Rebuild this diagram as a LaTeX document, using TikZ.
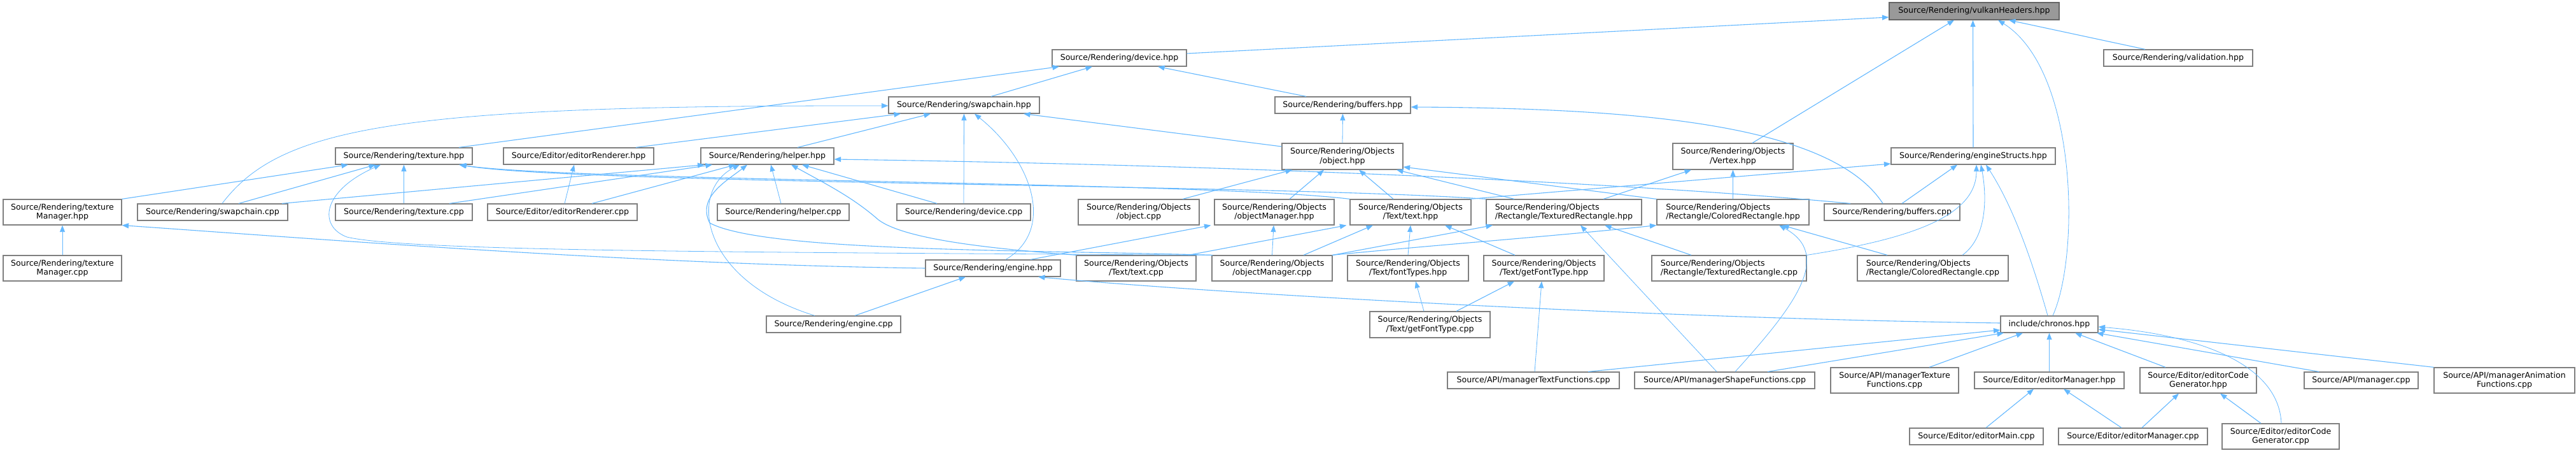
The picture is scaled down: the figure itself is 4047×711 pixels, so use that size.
\documentclass[tikz,border=0pt]{standalone}
\usepackage{fontspec}
\newfontfamily\dvs{DejaVu Sans}
\usetikzlibrary{calc,arrows.meta}
\definecolor{edgec}{HTML}{63B8FF}
\definecolor{boxline}{HTML}{7F7F7F}
\definecolor{mainfill}{HTML}{999999}
\definecolor{mainline}{HTML}{666666}
\tikzset{
  box/.style={draw=boxline, line width=1.2pt, fill=white, inner sep=0pt,
    font={\dvs\fontsize{12.6pt}{14.5pt}\selectfont}, align=center,
    minimum height=26pt},
  boxtwo/.style={box, minimum height=40pt},
  boxleft/.style={boxtwo, align=left},
  mainbox/.style={box, fill=mainfill, draw=mainline},
  edge/.style={draw=edgec, line width=1.1pt, -{Triangle[length=10.5pt,width=8pt,fill=edgec]}},
  thinedge/.style={edge, line width=0.8pt},
}
\begin{document}
\begin{tikzpicture}[x=1pt,y=-1pt]
\fill[white] (0,0) rectangle (4047,711);
\useasboundingbox (0,0) rectangle (4047,711);

% ---------- nodes ----------
\node[mainbox, minimum width=267pt, minimum height=27pt] (VH) at (3101.5,17.5) {Source/Rendering/vulkanHeaders.hpp};
\node[box, minimum width=211pt] (DEV) at (1758.5,91) {Source/Rendering/device.hpp};
\node[box, minimum width=234pt] (VAL) at (3422,91) {Source/Rendering/validation.hpp};
\node[box, minimum width=237pt] (SW) at (1514.5,165) {Source/Rendering/swapchain.hpp};
\node[box, minimum width=213pt] (BUF) at (2109.5,165) {Source/Rendering/buffers.hpp};
\node[box, minimum width=215pt] (TEX) at (634.5,245) {Source/Rendering/texture.hpp};
\node[box, minimum width=236pt] (ER) at (909,245) {Source/Editor/editorRenderer.hpp};
\node[box, minimum width=209pt] (HLP) at (1205.5,245) {Source/Rendering/helper.hpp};
\node[boxtwo, minimum width=190pt, minimum height=41pt] (OBJ) at (2109,245.5) {Source/Rendering/Objects\\/object.hpp};
\node[boxtwo, minimum width=189pt, minimum height=41pt] (VX) at (2722.5,245.5) {Source/Rendering/Objects\\/Vertex.hpp};
\node[box, minimum width=258pt] (ES) at (3100,245) {Source/Rendering/engineStructs.hpp};
\node[boxtwo, minimum width=186pt] (TM) at (98,333) {Source/Rendering/texture\\Manager.hpp};
\node[box, minimum width=236pt] (SWC) at (334,333) {Source/Rendering/swapchain.cpp};
\node[box, minimum width=215pt] (TEXC) at (634.5,333) {Source/Rendering/texture.cpp};
\node[box, minimum width=235pt] (ERC) at (883.5,333) {Source/Editor/editorRenderer.cpp};
\node[box, minimum width=207pt] (HLPC) at (1230.5,333) {Source/Rendering/helper.cpp};
\node[box, minimum width=210pt] (DEVC) at (1514,333) {Source/Rendering/device.cpp};
\node[boxtwo, minimum width=190pt] (OBJC) at (1789,333) {Source/Rendering/Objects\\/object.cpp};
\node[boxtwo, minimum width=188pt] (OMH) at (2002,333) {Source/Rendering/Objects\\/objectManager.hpp};
\node[boxtwo, minimum width=190pt] (TXH) at (2216,333) {Source/Rendering/Objects\\/Text/text.hpp};
\node[boxleft, minimum width=244pt] (TRH) at (2457,333) {Source/Rendering/Objects\\/Rectangle/TexturedRectangle.hpp};
\node[boxleft, minimum width=239pt] (CRH) at (2722.5,333) {Source/Rendering/Objects\\/Rectangle/ColoredRectangle.hpp};
\node[box, minimum width=213pt] (BUFC) at (2972.5,333) {Source/Rendering/buffers.cpp};
\node[boxtwo, minimum width=186pt] (TMC) at (98,421) {Source/Rendering/texture\\Manager.cpp};
\node[box, minimum width=212pt] (ENG) at (1560,421) {Source/Rendering/engine.hpp};
\node[boxtwo, minimum width=188pt] (TXC) at (1785,421) {Source/Rendering/Objects\\/Text/text.cpp};
\node[boxtwo, minimum width=189pt] (OMC) at (1998.5,421) {Source/Rendering/Objects\\/objectManager.cpp};
\node[boxtwo, minimum width=190pt] (FT) at (2212,421) {Source/Rendering/Objects\\/Text/fontTypes.hpp};
\node[boxtwo, minimum width=189pt] (GFH) at (2425.5,421) {Source/Rendering/Objects\\/Text/getFontType.hpp};
\node[boxleft, minimum width=243pt] (TRC) at (2716.5,421) {Source/Rendering/Objects\\/Rectangle/TexturedRectangle.cpp};
\node[boxleft, minimum width=237pt] (CRC) at (3036.5,421) {Source/Rendering/Objects\\/Rectangle/ColoredRectangle.cpp};
\node[box, minimum width=211pt] (ENGC) at (1309.5,509) {Source/Rendering/engine.cpp};
\node[boxtwo, minimum width=189pt, minimum height=41pt] (GFC) at (2246.5,509.5) {Source/Rendering/Objects\\/Text/getFontType.cpp};
\node[box, minimum width=153pt] (CHR) at (3219.5,509) {include/chronos.hpp};
\node[box, minimum width=270pt] (MTF) at (2409,597) {Source/API/managerTextFunctions.cpp};
\node[box, minimum width=283pt] (MSF) at (2709.5,597) {Source/API/managerShapeFunctions.cpp};
\node[boxtwo, minimum width=201pt] (MTXF) at (2976.5,597) {Source/API/managerTexture\\Functions.cpp};
\node[box, minimum width=235pt] (EMH) at (3219.5,597) {Source/Editor/editorManager.hpp};
\node[boxtwo, minimum width=183pt] (ECGH) at (3453.5,597) {Source/Editor/editorCode\\Generator.hpp};
\node[box, minimum width=179pt] (MC) at (3709.5,597) {Source/API/manager.cpp};
\node[boxtwo, minimum width=221pt] (MAF) at (3934.5,597) {Source/API/managerAnimation\\Functions.cpp};
\node[box, minimum width=210pt] (EMAIN) at (3105,685) {Source/Editor/editorMain.cpp};
\node[box, minimum width=234pt] (EMC) at (3351,685) {Source/Editor/editorManager.cpp};
\node[boxtwo, minimum width=184pt] (ECGC) at (3583,685) {Source/Editor/editorCode\\Generator.cpp};

% ---------- edges ----------
% vulkanHeaders.hpp
\draw[edge] ($(DEV.east)+(0,-7)$) -- ($(VH.west)+(0,9.5)$);
\draw[edge] ($(VX.north)+(30.5,0)$) -- ($(VH.south)+(-31.5,0)$);
\draw[edge] (ES.north) -- ($(VH.south)+(-2,0)$);
\draw[thinedge] ($(CHR.north)+(5.5,0)$) .. controls (3268,400) and (3264,110) .. ($(VH.south)+(37.5,0)$);
\draw[edge] ($(VAL.north)+(-52,0)$) -- ($(VH.south)+(54.5,0)$);
% device.hpp
\draw[edge] ($(TEX.north)+(86.5,0)$) -- ($(DEV.south)+(-94.5,0)$);
\draw[edge] ($(SW.north)+(42.5,0)$) -- ($(DEV.south)+(-42.5,0)$);
\draw[edge] ($(BUF.north)+(-57.5,0)$) -- ($(DEV.south)+(60.5,0)$);
% swapchain.hpp
\draw[thinedge] ($(SWC.north)+(15,0)$) .. controls (440,200) and (620,165) .. ($(SW.west)+(0,1)$);
\draw[edge] ($(ER.north)+(90,0)$) -- ($(SW.south)+(-99.5,0)$);
\draw[edge] ($(HLP.north)+(47.5,0)$) -- ($(SW.south)+(-52.5,0)$);
\draw[thinedge] (DEVC.north) -- (SW.south);
\draw[thinedge] ($(ENG.north)+(20,0)$) .. controls (1660,360) and (1620,250) .. ($(SW.south)+(16.5,0)$);
\draw[edge] ($(OBJ.west)+(0,-15.5)$) -- ($(SW.south)+(93.5,0)$);
% buffers.hpp
\draw[thinedge] (OBJ.north) -- (BUF.south);
\draw[edge] ($(BUFC.north)+(-14.5,0)$) .. controls (2880,200) and (2600,170) .. ($(BUF.east)+(0,3)$);
% object.hpp
\draw[edge] ($(OBJC.north)+(69,0)$) -- ($(OBJ.south)+(-79,0)$);
\draw[edge] ($(OMH.north)+(24,0)$) -- ($(OBJ.south)+(-29,0)$);
\draw[edge] ($(TXH.north)+(-27,0)$) -- ($(OBJ.south)+(26,0)$);
\draw[edge] ($(TRH.north)+(-78,0)$) -- ($(OBJ.south)+(85,0)$);
\draw[edge] (CRH.north west) -- ($(OBJ.east)+(0,16.5)$);
% helper.hpp
\draw[edge] ($(SWC.north)+(109,0)$) -- ($(HLP.south)+(-99,0)$);
\draw[edge] ($(TEXC.north)+(71.5,0)$) -- ($(HLP.south)+(-86.5,0)$);
\draw[edge] ($(ERC.north)+(46.5,0)$) -- ($(HLP.south)+(-50,0)$);
\draw[thinedge] ($(ENGC.north)+(-29.5,0)$) .. controls (1100,440) and (1080,300) .. ($(HLP.south)+(-43.5,0)$);
\draw[edge] ($(OMC.north west)+(2,0)$) .. controls (1600,392) and (1200,395) .. (1115,350) .. controls (1095,310) and (1140,285) .. ($(HLP.south)+(-31.5,0)$);
\draw[thinedge] ($(HLPC.north)+(-3.5,0)$) -- ($(HLP.south)+(5.5,0)$);
\draw[edge] ($(TXC.north west)+(1,0)$) .. controls (1550,390) and (1420,375) .. (1380,345) .. controls (1340,310) and (1300,290) .. ($(HLP.south)+(37.5,0)$);
\draw[edge] ($(DEVC.north)+(-42,0)$) -- ($(HLP.south)+(54.5,0)$);
\draw[edge] ($(BUFC.north)+(-65.5,0)$) .. controls (2600,290) and (2000,260) .. ($(HLP.east)+(0,5)$);
% texture.hpp
\draw[edge] (TM.north east) -- ($(TEX.south)+(-87.5,0)$);
\draw[edge] ($(SWC.north)+(41,0)$) -- ($(TEX.south)+(-44.5,0)$);
\draw[thinedge] (OMC.north west) .. controls (1200,396) and (640,395) .. (545,372) .. controls (500,355) and (505,300) .. ($(TEX.south)+(-36.5,0)$);
\draw[thinedge] (TEXC.north) -- (TEX.south);
\draw[edge] (TXH.north west) .. controls (1900,285) and (900,285) .. ($(TEX.south)+(86.5,0)$);
\draw[edge] (TRH.north west) .. controls (2000,289) and (900,289) .. ($(TEX.south)+(88,0)$);
% editorRenderer.hpp
\draw[thinedge] ($(ERC.north)+(3.5,0)$) -- ($(ER.south)+(-7,0)$);
% textureManager.hpp
\draw[thinedge] (TMC.north) -- (TM.south);
\draw[edge] (ENG.west) .. controls (1000,415) and (500,375) .. (TM.south east);
% engine.hpp
\draw[edge] ($(ENGC.north)+(33.5,0)$) -- ($(ENG.south)+(-43,0)$);
\draw[edge] ($(CHR.west)+(0,-2)$) .. controls (2600,500) and (1900,460) .. ($(ENG.south)+(71,0)$);
% objectManager.hpp
\draw[edge] ($(ENG.north)+(59,0)$) -- ($(OMH.south west)+(-5,0)$);
\draw[thinedge] (OMC.north) -- ($(OMH.south)+(-1,0)$);
% text.hpp
\draw[edge] ($(TXC.north)+(82,0)$) -- ($(TXH.south west)+(-5,0)$);
\draw[edge] ($(OMC.north)+(49.5,0)$) -- ($(TXH.south)+(-59,0)$);
\draw[thinedge] (FT.north) -- (TXH.south);
\draw[edge] ($(GFH.north)+(-45.5,0)$) -- ($(TXH.south)+(54,0)$);
% engineStructs.hpp
\draw[edge] ($(TXH.north east)+(-2,0)$) -- ($(ES.west)+(0,12)$);
\draw[edge] ($(BUFC.north)+(15.5,0)$) -- ($(ES.south)+(-25,0)$);
\draw[thinedge] (TRC.north east) .. controls (3000,375) and (3105,340) .. ($(ES.south)+(5,0)$);
\draw[thinedge] ($(CRC.north)+(46.5,0)$) .. controls (3125,370) and (3120,300) .. ($(ES.south)+(12,0)$);
\draw[thinedge] ($(CHR.north)+(-2.5,0)$) .. controls (3190,400) and (3160,320) .. ($(ES.south)+(20,0)$);
% Vertex.hpp
\draw[edge] ($(TRH.north)+(62,0)$) -- ($(VX.south)+(-65.5,0)$);
\draw[thinedge] (CRH.north) -- (VX.south);
% TexturedRectangle.hpp
\draw[edge] (OMC.north east) -- ($(TRH.south)+(-112,0)$);
\draw[thinedge] ($(MSF.north)+(-12.5,0)$) -- ($(TRH.south)+(26,0)$);
\draw[edge] ($(TRC.north)+(-59.5,0)$) -- ($(TRH.south)+(64,0)$);
% ColoredRectangle.hpp
\draw[edge] ($(OMC.north east)+(-1,0)$) .. controls (2250,385) and (2450,370) .. (CRH.south west);
\draw[thinedge] ($(MSF.north)+(16.5,0)$) .. controls (2820,480) and (2880,400) .. ($(CRH.south)+(72.5,0)$);
\draw[edge] ($(CRC.north)+(-71.5,0)$) -- ($(CRH.south)+(77.5,0)$);
% chronos.hpp
\draw[edge] ($(MTF.north)+(86,0)$) -- ($(CHR.west)+(0,9)$);
\draw[edge] ($(MSF.north)+(67.5,0)$) -- ($(CHR.south)+(-71.5,0)$);
\draw[edge] ($(MTXF.north)+(54.5,0)$) -- ($(CHR.south)+(-41.5,0)$);
\draw[thinedge] (EMH.north) -- (CHR.south);
\draw[edge] ($(ECGH.north)+(-51.5,0)$) -- ($(CHR.south)+(40.5,0)$);
\draw[edge] ($(MC.north)+(-66.5,0)$) -- ($(CHR.south)+(74.5,0)$);
\draw[edge] (MAF.north west) -- ($(CHR.east)+(0,8)$);
\draw[thinedge] ($(ECGC.north)+(1,0)$) .. controls (3580,570) and (3450,525) .. ($(CHR.east)+(0,4)$);
% editor
\draw[edge] ($(EMAIN.north)+(15,0)$) -- ($(EMH.south)+(-24.5,0)$);
\draw[edge] ($(EMC.north)+(-18,0)$) -- ($(EMH.south)+(22.5,0)$);
\draw[edge] ($(EMC.north)+(14,0)$) -- ($(ECGH.south)+(-30.5,0)$);
\draw[edge] ($(ECGC.north)+(-31,0)$) -- ($(ECGH.south)+(34.5,0)$);
% getFontType
\draw[thinedge] ($(GFC.north)+(-9.5,0)$) -- ($(FT.south)+(12,0)$);
\draw[edge] ($(GFC.north)+(41.5,0)$) -- ($(GFH.south)+(-46.5,0)$);
\draw[thinedge] ($(MTF.north)+(2,0)$) -- ($(GFH.south)+(-3.5,0)$);
\end{tikzpicture}
\end{document}
